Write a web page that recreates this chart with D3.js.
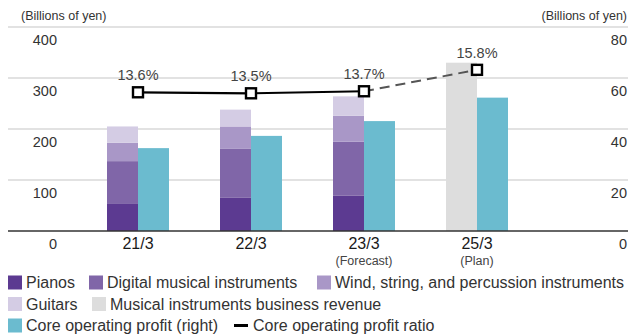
<!DOCTYPE html>
<html>
<head>
<meta charset="utf-8">
<script src="https://cdn.jsdelivr.net/npm/d3@7/dist/d3.min.js"></script>
<style>
  html, body { margin: 0; padding: 0; background: #fff; }
  svg { display: block; font-family: "Liberation Sans", Arial, sans-serif; }
</style>
</head>
<body>
<svg id="chart" width="630" height="336"></svg>
<script>
// ---- Data ----
const categories = ["21/3", "22/3", "23/3", "25/3"];
const subLabels = ["", "", "(Forecast)", "(Plan)"];
const pianos = [53, 65, 69, null];
const digital = [84, 96, 106, null];
const wind = [36, 44, 51, null];
const guitars = [32, 33, 38, null];
const businessRevenue = [null, null, null, 330];
const coreProfit = [32.5, 37.3, 43.1, 52.3];      // right axis
const profitRatio = [13.6, 13.5, 13.7, 15.8];      // %
const leftTicks = [0, 100, 200, 300, 400];
const rightTicks = [0, 20, 40, 60, 80];

const colors = {
  pianos: "#5c3a91",
  digital: "#8066a8",
  wind: "#a997c7",
  guitars: "#d4cce4",
  revenue: "#dddddd",
  profit: "#6bbbcf"
};

const svg = d3.select("#chart");
const plotBase = 231, plotTop = 27;

const y = d3.scaleLinear().domain([0, 400]).range([plotBase, plotTop]);
const yR = d3.scaleLinear().domain([0, 80]).range([plotBase, plotTop]);
const yP = d3.scaleLinear().domain([0, 20]).range([plotBase, plotTop]);
const x = d3.scaleBand().domain(categories).range([81.5, 533.5]);
const inner = d3.scaleBand().domain(["rev", "profit"]).range([-31, 31]);
const cx = c => x(c) + x.bandwidth() / 2;

// ---- Gridlines ----
svg.append("g").selectAll("line").data(leftTicks.filter(t => t > 0)).join("line")
  .attr("x1", 8).attr("x2", 628)
  .attr("y1", d => y(d)).attr("y2", d => y(d))
  .attr("stroke", "#d9d9d9").attr("stroke-width", 1.5);

// ---- Stacked bars ----
const stackKeys = ["pianos", "digital", "wind", "guitars"];
const stackData = categories.map((c, i) => ({
  cat: c, pianos: pianos[i] || 0, digital: digital[i] || 0, wind: wind[i] || 0, guitars: guitars[i] || 0
}));
const series = d3.stack().keys(stackKeys)(stackData);
svg.append("g").selectAll("g").data(series).join("g")
  .attr("fill", s => colors[s.key])
  .selectAll("rect").data(s => s.filter(d => d[1] > d[0])).join("rect")
  .attr("x", d => cx(d.data.cat) + inner("rev"))
  .attr("width", inner.bandwidth())
  .attr("y", d => y(d[1]))
  .attr("height", d => y(d[0]) - y(d[1]));

// business revenue (plan)
svg.append("g").selectAll("rect")
  .data(categories.map((c, i) => ({ c, v: businessRevenue[i] })).filter(d => d.v != null))
  .join("rect")
  .attr("fill", colors.revenue)
  .attr("x", d => cx(d.c) + inner("rev"))
  .attr("width", inner.bandwidth())
  .attr("y", d => y(d.v))
  .attr("height", d => plotBase - y(d.v));

// core operating profit (right axis)
svg.append("g").selectAll("rect")
  .data(categories.map((c, i) => ({ c, v: coreProfit[i] })))
  .join("rect")
  .attr("fill", colors.profit)
  .attr("x", d => cx(d.c) + inner("profit"))
  .attr("width", inner.bandwidth())
  .attr("y", d => yR(d.v))
  .attr("height", d => plotBase - yR(d.v));

// ---- Baseline ----
svg.append("line").attr("x1", 8).attr("x2", 628).attr("y1", plotBase).attr("y2", plotBase)
  .attr("stroke", "#333").attr("stroke-width", 1.5);

// ---- Axes ----
const leftAxis = svg.append("g").attr("transform", "translate(57,12.5)")
  .call(d3.axisLeft(y).tickValues(leftTicks).tickSize(0).tickPadding(0));
const rightAxis = svg.append("g").attr("transform", "translate(627,12.5)")
  .call(d3.axisLeft(yR).tickValues(rightTicks).tickSize(0).tickPadding(0));
[leftAxis, rightAxis].forEach(a => {
  a.select(".domain").remove();
  a.selectAll("text").attr("font-size", 14.5).attr("fill", "#333")
    .attr("font-family", "'Liberation Sans', Arial, sans-serif");
});

svg.append("text").attr("x", 21).attr("y", 19.5).attr("font-size", 12.5).attr("fill", "#333")
  .text("(Billions of yen)");
svg.append("text").attr("x", 627).attr("y", 19.5).attr("font-size", 12.5).attr("fill", "#333")
  .attr("text-anchor", "end").text("(Billions of yen)");

// x labels
const xAxis = svg.append("g").attr("transform", `translate(0,${plotBase})`)
  .call(d3.axisBottom(x).tickSize(0).tickPadding(0));
xAxis.select(".domain").remove();
xAxis.selectAll("text").attr("font-size", 16).attr("fill", "#1a1a1a")
  .attr("font-family", "'Liberation Sans', Arial, sans-serif")
  .attr("dy", 0).attr("y", 18);
svg.append("g").selectAll("text").data(categories.map((c, i) => ({ c, s: subLabels[i] })))
  .join("text")
  .attr("x", d => cx(d.c)).attr("y", plotBase + 34)
  .attr("text-anchor", "middle").attr("font-size", 12.5).attr("fill", "#444")
  .text(d => d.s);

// ---- Ratio line ----
const pts = categories.map((c, i) => ({ c, v: profitRatio[i] }));
const line = d3.line().x(d => cx(d.c)).y(d => yP(d.v));
svg.append("path").datum(pts.slice(0, 3)).attr("d", line)
  .attr("fill", "none").attr("stroke", "#000").attr("stroke-width", 2.2);
svg.append("path").datum(pts.slice(2)).attr("d", line)
  .attr("fill", "none").attr("stroke", "#555").attr("stroke-width", 2)
  .attr("stroke-dasharray", "10,6");
svg.append("g").selectAll("rect").data(pts).join("rect")
  .attr("x", d => cx(d.c) - 5).attr("y", d => yP(d.v) - 5)
  .attr("width", 10).attr("height", 10)
  .attr("fill", "#fff").attr("stroke", "#000").attr("stroke-width", 2.4);
svg.append("g").selectAll("text").data(pts).join("text")
  .attr("x", d => cx(d.c)).attr("y", d => yP(d.v) - 12)
  .attr("text-anchor", "middle").attr("font-size", 14.5).attr("fill", "#444")
  .text(d => d.v.toFixed(1) + "%");

// ---- Legend ----
const legendItems = [
  { label: "Pianos", color: colors.pianos, type: "box", x: 8, row: 0 },
  { label: "Digital musical instruments", color: colors.digital, type: "box", x: 89, row: 0 },
  { label: "Wind, string, and percussion instruments", color: colors.wind, type: "box", x: 317, row: 0 },
  { label: "Guitars", color: colors.guitars, type: "box", x: 8, row: 1 },
  { label: "Musical instruments business revenue", color: colors.revenue, type: "box", x: 92, row: 1 },
  { label: "Core operating profit (right)", color: colors.profit, type: "box", x: 8, row: 2 },
  { label: "Core operating profit ratio", color: "#000", type: "line", x: 234, row: 2 }
];
const rowY = [282.5, 304, 325.5];
const lg = svg.append("g").selectAll("g").data(legendItems).join("g")
  .attr("transform", d => `translate(${d.x},${rowY[d.row]})`);
lg.filter(d => d.type === "box").append("rect")
  .attr("x", 0).attr("y", -7).attr("width", 14).attr("height", 14).attr("fill", d => d.color);
lg.filter(d => d.type === "line").append("rect")
  .attr("x", 0).attr("y", -1.5).attr("width", 14).attr("height", 3).attr("fill", d => d.color);
lg.append("text").attr("x", d => d.type === "line" ? 19 : 18).attr("y", 0).attr("dy", "0.35em")
  .attr("font-size", 16).attr("fill", "#333").text(d => d.label);
</script>
</body>
</html>
